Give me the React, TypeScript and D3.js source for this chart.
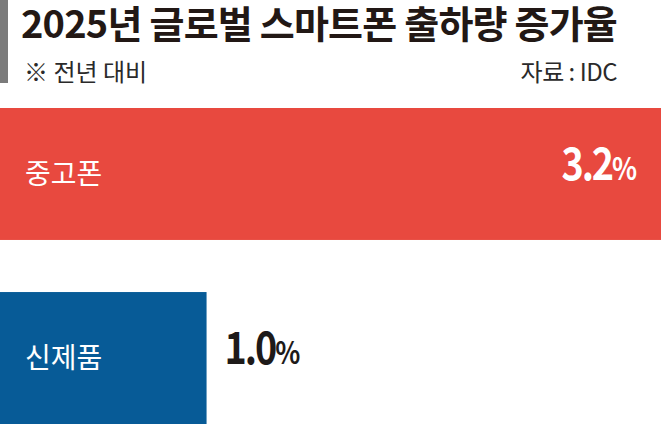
import * as d3 from 'd3';
import { useEffect, useRef } from "react";

const categories = ['중고폰', '신제품'];
const values = [3.2, 1.0];
const valueLabels = ['3.2', '1.0'];
const title = '2025년 글로벌 스마트폰 출하량 증가율';
const subtitle = '※ 전년 대비';
const source = '자료 : IDC';

const WIDTH = 661;
const HEIGHT = 424;
const BAR_TOP = 108;
const barColors = ['#E8493F', '#075B97'];
const KR = '"Noto Sans CJK KR", sans-serif';
const NUM = '"Noto Sans CJK KR", sans-serif';

export default function App() {
    const ref = useRef(null);
    useEffect(() => {
        if (!ref.current) return;
        const svg = d3.select(ref.current);
        svg.selectAll("*").remove();

        const x = d3.scaleLinear().domain([0, 3.2]).range([0, WIDTH]);
        const y = d3.scaleBand<string>()
            .domain(categories)
            .range([BAR_TOP, HEIGHT])
            .paddingInner(0.283)
            .paddingOuter(0);

        // header
        svg.append('rect')
            .attr('x', 0).attr('y', 0)
            .attr('width', 8).attr('height', 83)
            .attr('fill', '#7b7b7b');

        svg.append('text')
            .attr('x', 21).attr('y', 38)
            .attr('font-family', KR)
            .attr('font-weight', 700)
            .attr('font-size', 38)
            .attr('letter-spacing', -0.8)
            .attr('fill', '#221815')
            .text(title);

        svg.append('text')
            .attr('x', 24).attr('y', 81)
            .attr('font-family', KR)
            .attr('font-size', 24)
            .attr('fill', '#2a2a2a')
            .text(subtitle);

        svg.append('text')
            .attr('x', 617).attr('y', 81)
            .attr('text-anchor', 'end')
            .attr('font-family', KR)
            .attr('font-size', 24)
            .attr('letter-spacing', -0.5)
            .attr('fill', '#2a2a2a')
            .text(source);

        const rows = categories.map((c, i) => ({ c, v: values[i], label: valueLabels[i], i }));

        svg.selectAll('.bar')
            .data(rows)
            .enter()
            .append('rect')
            .attr('class', 'bar')
            .attr('x', x(0))
            .attr('y', d => y(d.c)!)
            .attr('width', d => x(d.v) - x(0))
            .attr('height', y.bandwidth())
            .attr('fill', d => barColors[d.i]);

        svg.selectAll('.cat')
            .data(rows)
            .enter()
            .append('text')
            .attr('class', 'cat')
            .attr('x', 25)
            .attr('y', d => y(d.c)! + y.bandwidth() / 2)
            .attr('dy', '0.36em')
            .attr('font-family', KR)
            .attr('font-size', 28)
            .attr('fill', '#ffffff')
            .text(d => d.c);

        // value label: inside the bar when it is wide, outside otherwise
        // squeezed horizontally to mimic the condensed numeral face
        const val = svg.selectAll('.val')
            .data(rows)
            .enter()
            .append('text')
            .attr('class', 'val')
            .attr('transform', d => {
                const tx = d.v > 2 ? x(d.v) - 26 : x(d.v) + 18;
                const ty = y(d.c)! + y.bandwidth() / 2;
                return `translate(${tx},${ty}) scale(0.84,1)`;
            })
            .attr('dy', '0.36em')
            .attr('text-anchor', d => d.v > 2 ? 'end' : 'start')
            .attr('font-family', NUM)
            .attr('font-weight', 700)
            .attr('letter-spacing', -2.5)
            .attr('fill', d => d.v > 2 ? '#ffffff' : '#1e1a19');

        val.append('tspan')
            .attr('font-size', 45)
            .text(d => d.label);
        val.append('tspan')
            .attr('font-size', 31)
            .text('%');
    }, []);

    return (
        <svg ref={ref} width={WIDTH} height={HEIGHT}
            style={{ position: 'absolute', left: 0, top: 0, background: '#ffffff' }}></svg>
    );
}
